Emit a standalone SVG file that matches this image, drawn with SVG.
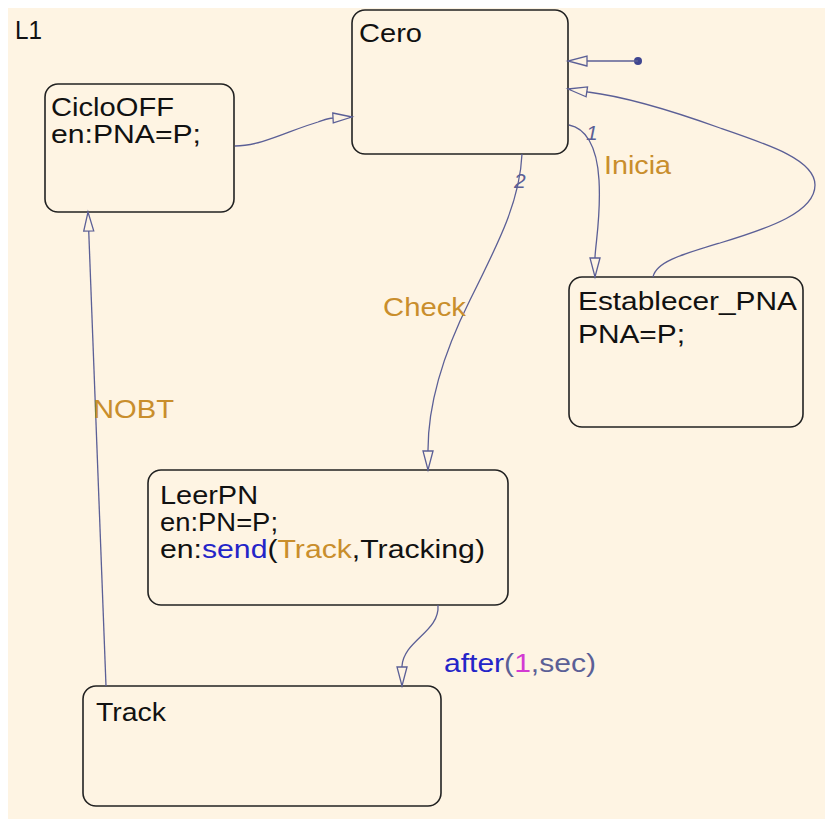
<svg xmlns="http://www.w3.org/2000/svg" width="825" height="819" viewBox="0 0 825 819">
  <style>
    .state { fill: #fef4e3; stroke: #222222; stroke-width: 1.6; }
    .txt { font-family: "Liberation Sans", Arial, sans-serif; font-size: 25px; fill: #111111; }
    .lbl { font-family: "Liberation Sans", Arial, sans-serif; font-size: 25px; fill: #c98e2c; }
    .num { font-family: "Liberation Sans", Arial, sans-serif; font-size: 21px; font-style: italic; fill: #5b5f96; }
    .tr { fill: none; stroke: #5b5f96; stroke-width: 1.3; marker-end: url(#open); }
  </style>
  <defs>
    <marker id="open" markerUnits="userSpaceOnUse" markerWidth="24" markerHeight="14" refX="19" refY="5.5" orient="auto" overflow="visible">
      <path d="M0,0.5 L19,5.5 L0,10.5 Z" fill="#fef4e3" stroke="#5b5f96" stroke-width="1.3"/>
    </marker>
  </defs>

  <!-- chart canvas -->
  <rect x="0" y="0" width="825" height="819" fill="#ffffff"/>
  <rect x="8" y="8" width="817" height="811" fill="#fef4e3"/>
  <text class="txt" x="15" y="39" textLength="27" lengthAdjust="spacingAndGlyphs">L1</text>

  <!-- states -->
  <g id="cero">
    <rect class="state" x="352" y="10" width="216" height="144" rx="13"/>
    <text class="txt" x="359" y="42" textLength="63" lengthAdjust="spacingAndGlyphs">Cero</text>
  </g>
  <g id="ciclooff">
    <rect class="state" x="45" y="84" width="189" height="128" rx="13"/>
    <text class="txt" x="51" y="116" textLength="123" lengthAdjust="spacingAndGlyphs">CicloOFF</text>
    <text class="txt" x="51" y="143" textLength="150" lengthAdjust="spacingAndGlyphs">en:PNA=P;</text>
  </g>
  <g id="establecer_pna">
    <rect class="state" x="569" y="277" width="234" height="150" rx="13"/>
    <text class="txt" x="578" y="310" textLength="219" lengthAdjust="spacingAndGlyphs">Establecer_PNA</text>
    <text class="txt" x="578" y="343" textLength="107" lengthAdjust="spacingAndGlyphs">PNA=P;</text>
  </g>
  <g id="leerpn">
    <rect class="state" x="148" y="470" width="360" height="135" rx="13"/>
    <text class="txt" x="160" y="504" textLength="98" lengthAdjust="spacingAndGlyphs">LeerPN</text>
    <text class="txt" x="160" y="531" textLength="118" lengthAdjust="spacingAndGlyphs">en:PN=P;</text>
    <text class="txt" x="160" y="558" textLength="325" lengthAdjust="spacingAndGlyphs">en:<tspan fill="#2424c8">send</tspan>(<tspan fill="#c98e2c">Track</tspan>,Tracking)</text>
  </g>
  <g id="track">
    <rect class="state" x="83" y="686" width="358" height="120" rx="13"/>
    <text class="txt" x="96" y="721" textLength="70" lengthAdjust="spacingAndGlyphs">Track</text>
  </g>

  <!-- transitions -->
  <g id="transitions">
    <!-- default transition into Cero -->
    <circle cx="638" cy="61" r="4" fill="#3f4590"/>
    <path class="tr" d="M638,61 L568,61"/>
    <!-- Establecer_PNA back to Cero -->
    <path class="tr" d="M653,277 C656,262 680,255 720,243 C770,228 815,212 815,185 C815,160 770,145 720,128 C670,110 620,96 588,92 L568,89"/>
    <!-- Cero to Establecer_PNA (1: Inicia) -->
    <path class="tr" d="M569,125 C585,128 597,145 599,180 C601,215 596,240 595,257 L595,277"/>
    <!-- Cero to LeerPN (2: Check) -->
    <path class="tr" d="M522,154 C520,200 500,240 470,300 C440,360 428,410 428,450 L428,470"/>
    <!-- LeerPN to Track -->
    <path class="tr" d="M438,605 C440,632 404,640 402,666 L402,686"/>
    <!-- Track to CicloOFF -->
    <path class="tr" d="M106,686 L88,212"/>
    <!-- CicloOFF to Cero -->
    <path class="tr" d="M235,146 C262,146 290,130 318,122 C324,120 328,118 333,118 L352,117"/>

    <text class="num" x="586" y="140">1</text>
    <text class="num" x="514" y="188">2</text>
    <text class="lbl" x="604" y="174" textLength="67" lengthAdjust="spacingAndGlyphs">Inicia</text>
    <text class="lbl" x="383" y="316" textLength="83" lengthAdjust="spacingAndGlyphs">Check</text>
    <text class="lbl" x="93" y="418" textLength="81" lengthAdjust="spacingAndGlyphs">NOBT</text>
    <text class="lbl" x="444" y="672" textLength="152" lengthAdjust="spacingAndGlyphs"><tspan fill="#2424c8">after</tspan><tspan fill="#5b5f96">(</tspan><tspan fill="#d33ad3">1</tspan><tspan fill="#5b5f96">,sec)</tspan></text>
  </g>
</svg>
